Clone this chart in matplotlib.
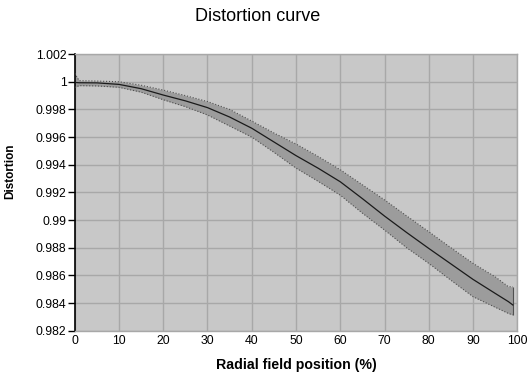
import matplotlib
matplotlib.use("Agg")
import matplotlib.pyplot as plt
from matplotlib import font_manager

plt.rcParams['font.family'] = ['Liberation Sans', 'DejaVu Sans']

# Radial field position (%)
pos = [0, 1, 5, 10, 15, 20, 25, 30, 35, 40, 45, 50, 55, 60, 65, 70, 75, 80, 85, 90, 95, 98, 99]
center = [0.99995, 0.99993, 0.99992, 0.99981, 0.99950, 0.99904, 0.99862, 0.99813, 0.99745, 0.99664,
          0.99565, 0.99466, 0.99375, 0.99277, 0.99155, 0.99029, 0.98910, 0.98795, 0.98683, 0.98571,
          0.98470, 0.98410, 0.98386]
upper = [1.0006, 1.00008, 1.00005, 1.00000, 0.99975, 0.99940, 0.99900, 0.99857, 0.99800, 0.99716,
         0.99630, 0.99550, 0.99460, 0.99364, 0.99255, 0.99146, 0.99030, 0.98916, 0.98800, 0.98687,
         0.98590, 0.98518, 0.98518]
lower = [0.99960, 0.99972, 0.99970, 0.99960, 0.99925, 0.99870, 0.99820, 0.99760, 0.99680, 0.99600,
         0.99490, 0.99376, 0.99280, 0.99180, 0.99050, 0.98928, 0.98800, 0.98687, 0.98565, 0.98446,
         0.98370, 0.98325, 0.98314]

x_ticks = list(range(0, 101, 10))
y_ticks = [0.982, 0.984, 0.986, 0.988, 0.99, 0.992, 0.994, 0.996, 0.998, 1.0, 1.002]
y_labels = ['0.982', '0.984', '0.986', '0.988', '0.99', '0.992', '0.994', '0.996', '0.998', '1', '1.002']

names = {f.name for f in font_manager.fontManager.ttflist}
narrow = ['Liberation Sans Narrow', 'Liberation Sans', 'DejaVu Sans'] if 'Liberation Sans Narrow' in names else ['Liberation Sans', 'DejaVu Sans']
ylab_size = 10 if 'Liberation Sans Narrow' in names else 8.5

fig = plt.figure(figsize=(5.3, 3.81), dpi=100)
ax = fig.add_axes([0.141, 0.132, 0.835, 0.726])
ax.set_facecolor('#c8c8c8')

ax.fill_between(pos, lower, upper, color='#9c9c9c', linewidth=0, zorder=2)
ax.plot(pos, upper, color='#505050', linestyle=':', linewidth=0.8, zorder=3)
ax.plot(pos, lower, color='#505050', linestyle=':', linewidth=0.8, zorder=3)
ax.vlines(pos[-1], lower[-1], upper[-1], color='#505050', linewidth=0.8, zorder=3)
ax.plot(pos, center, color='#1a1a1a', linewidth=0.9, zorder=4)

ax.set_xlim(0, 100)
ax.set_ylim(0.982, 1.002)
ax.set_xticks(x_ticks)
ax.set_yticks(y_ticks)
ax.set_yticklabels(y_labels)
ax.grid(True, color='#a8a8a8', linewidth=1.0, zorder=1)
ax.set_axisbelow(True)

for s in ['top', 'right', 'bottom']:
    ax.spines[s].set_color('#a8a8a8')
    ax.spines[s].set_linewidth(1.0)
ax.spines['left'].set_color('black')
ax.spines['left'].set_linewidth(1.2)

ax.tick_params(axis='y', direction='out', length=5, width=1, color='black', labelsize=8.8, pad=1)
ax.tick_params(axis='x', length=0, labelsize=8.8, pad=3)

ax.set_xlabel('Radial field position (%)', fontsize=10.2, fontweight='bold', labelpad=8)
ax.set_ylabel('Distortion', fontsize=ylab_size, fontweight='bold', family=narrow)
ax.yaxis.set_label_coords(-0.132, 0.578)
fig.suptitle('Distortion curve', fontsize=13, x=0.486, y=0.98)

fig.savefig('out.png', dpi=100)
